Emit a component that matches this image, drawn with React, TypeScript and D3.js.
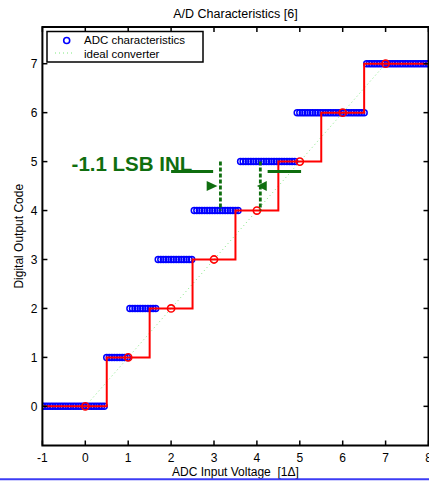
import React from 'react';
import * as d3 from 'd3';

// output codes of the 3-bit converter
const codes = [0, 1, 2, 3, 4, 5, 6, 7];
const adcTransitions = [0.47, 1.02, 1.64, 2.5, 3.57, 4.92, 6.52];
// ideal converter transitions and the ideal sample points (red circles)
const idealTransitions = [0.5, 1.5, 2.5, 3.5, 4.5, 5.5, 6.5];
const idealPoints = [0, 1, 2, 3, 4, 5, 6, 7];
// input sweep of the ADC test
const sweepStart = -1;
const sweepEnd = 8;
const sweepStep = 0.06;
const xTicks = [-1, 0, 1, 2, 3, 4, 5, 6, 7, 8];
const yTicks = [0, 1, 2, 3, 4, 5, 6, 7];

const W = 429;
const H = 481;
const font = 'Liberation Sans, Arial, sans-serif';
const green = '#0f6e0f';

const App: React.FC = () => {
  const x = d3.scaleLinear().domain([-1, 8]).range([42.4, 428.5]);
  const y = d3.scaleLinear().domain([-0.8, 7.75]).range([445.5, 27]);
  const [x0, x1] = x.range();
  const [y0, y1] = y.range();

  const codeOf = (v: number, tr: number[]) => tr.filter((t) => v >= t).length;

  const sweep = d3.range(sweepStart, sweepEnd + 1e-9, sweepStep);
  const adcPts = sweep.map((v) => ({ v, c: codes[codeOf(v, adcTransitions)] }));

  // ideal staircase (red)
  const stairPts: [number, number][] = [[sweepStart, 0]];
  idealTransitions.forEach((t, i) => {
    stairPts.push([t, i]);
    stairPts.push([t, i + 1]);
  });
  stairPts.push([sweepEnd, codes[codes.length - 1]]);
  const stair = d3
    .line<[number, number]>()
    .x((d) => x(d[0]))
    .y((d) => y(d[1]))(stairPts);

  const tickLen = 5;

  // annotation arrow heads
  const tri = (tipX: number, baseX: number, cy: number) => {
    const tx = x(tipX);
    const bx = x(baseX);
    const yy = y(cy);
    return `M${tx},${yy} L${bx},${yy - 5} L${bx},${yy + 5} Z`;
  };

  return (
    <svg
      width={W}
      height={H}
      viewBox={`0 0 ${W} ${H}`}
      style={{ position: 'absolute', left: 0, top: 0, background: '#fff' }}
      fontFamily={font}
    >
      <defs>
        <clipPath id="plot">
          <rect x={x0} y={y1} width={x1 - x0} height={y0 - y1} />
        </clipPath>
      </defs>

      <text x={(x0 + x1) / 2} y={18} textAnchor="middle" fontSize={12.5}>
        A/D Characteristics [6]
      </text>

      <g clipPath="url(#plot)">
        {/* ADC characteristics */}
        {adcPts.map((d, i) => (
          <circle key={i} cx={x(d.v)} cy={y(d.c)} r={3} fill="none" stroke="#0000ff" strokeWidth={1.5} />
        ))}
        {/* ideal converter */}
        <line
          x1={x(idealPoints[0])}
          y1={y(idealPoints[0])}
          x2={x(idealPoints[idealPoints.length - 1])}
          y2={y(idealPoints[idealPoints.length - 1])}
          stroke="#7fe87f"
          strokeWidth={1}
          strokeDasharray="1,3"
        />
        <path d={stair || ''} fill="none" stroke="#ff0000" strokeWidth={2} />
        {idealPoints.map((p) => (
          <circle key={p} cx={x(p)} cy={y(p)} r={3.6} fill="none" stroke="#ff0000" strokeWidth={1.6} />
        ))}

        {/* INL annotation */}
        <line x1={x(2.0)} x2={x(2.98)} y1={y(4.8)} y2={y(4.8)} stroke={green} strokeWidth={3} />
        <line x1={x(4.25)} x2={x(5.03)} y1={y(4.8)} y2={y(4.8)} stroke={green} strokeWidth={3} />
        <line x1={x(3.15)} x2={x(3.15)} y1={y(5)} y2={y(4)} stroke={green} strokeWidth={2.8} strokeDasharray="4,2" />
        <line x1={x(4.08)} x2={x(4.08)} y1={y(5)} y2={y(4)} stroke={green} strokeWidth={2.8} strokeDasharray="4,2" />
        <path d={tri(3.08, 2.83, 4.5)} fill={green} />
        <path d={tri(4.0, 4.23, 4.5)} fill={green} />
      </g>
      <text x={x(-0.32)} y={y(4.8)} fontSize={20.5} fontWeight="bold" fill={green}>
        -1.1 LSB INL
      </text>

      {/* axes box with inward ticks */}
      <rect x={x0} y={y1} width={x1 - x0} height={y0 - y1} fill="none" stroke="#000" strokeWidth={2} />
      {xTicks.map((t) => (
        <g key={'x' + t}>
          <line x1={x(t)} x2={x(t)} y1={y0} y2={y0 - tickLen} stroke="#000" strokeWidth={1.5} />
          <line x1={x(t)} x2={x(t)} y1={y1} y2={y1 + tickLen} stroke="#000" strokeWidth={1.5} />
          <text x={x(t)} y={462} textAnchor="middle" fontSize={12}>
            {t}
          </text>
        </g>
      ))}
      {yTicks.map((t) => (
        <g key={'y' + t}>
          <line x1={x0} x2={x0 + tickLen} y1={y(t)} y2={y(t)} stroke="#000" strokeWidth={1.5} />
          <line x1={x1} x2={x1 - tickLen} y1={y(t)} y2={y(t)} stroke="#000" strokeWidth={1.5} />
          <text x={37.5} y={y(t) + 4.2} textAnchor="end" fontSize={12}>
            {t}
          </text>
        </g>
      ))}

      <text x={(x0 + x1) / 2} y={476} textAnchor="middle" fontSize={12}>
        {'ADC Input Voltage \u00a0[1Δ]'}
      </text>
      <text
        transform={`translate(23,${(y0 + y1) / 2}) rotate(-90)`}
        textAnchor="middle"
        fontSize={12}
      >
        Digital Output Code
      </text>

      {/* legend */}
      <rect x={47} y={31.5} width={156} height={30.5} fill="#fff" stroke="#000" strokeWidth={1.5} />
      <circle cx={66.7} cy={40.5} r={3} fill="none" stroke="#0000ff" strokeWidth={1.6} />
      <text x={84} y={44} fontSize={11.5}>
        ADC characteristics
      </text>
      <line x1={55} x2={75} y1={53} y2={53} stroke="#7fe87f" strokeWidth={1} strokeDasharray="1,3" />
      <text x={84} y={57.5} fontSize={11.5}>
        ideal converter
      </text>

      <line x1={0} x2={W} y1={479.3} y2={479.3} stroke="#3c3cf5" strokeWidth={2} />
    </svg>
  );
};

export default App;
